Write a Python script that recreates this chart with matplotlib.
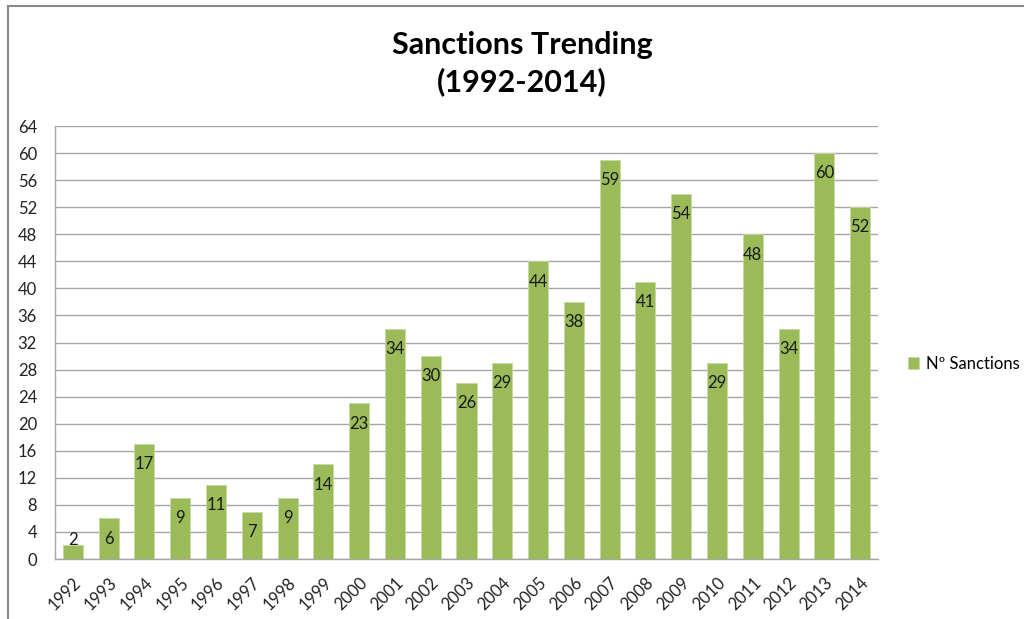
import matplotlib.pyplot as plt
from matplotlib.patches import Rectangle

years = [str(y) for y in range(1992, 2015)]
sanctions = [2, 6, 17, 9, 11, 7, 9, 14, 23, 34, 30, 26, 29, 44, 38, 59, 41, 54, 29, 48, 34, 60, 52]
y_ticks = list(range(0, 65, 4))

plt.rcParams['font.family'] = ['Lato', 'DejaVu Sans']

fig = plt.figure(figsize=(10.24, 6.19), dpi=100)
ax = fig.add_axes([55 / 1024, 1 - 559 / 619, 823 / 1024, 433 / 619])

# chart frame (only top/left edges show in the exported area)
fig.patches.append(Rectangle((8 / 1024, -0.1), 1.2, (619 - 6) / 619 + 0.1,
                             transform=fig.transFigure, fill=False,
                             edgecolor='#888888', linewidth=1.5))

x = range(len(years))
bars = ax.bar(x, sanctions, width=0.56, color='#9BBB59', edgecolor='#C6DBA0',
              linewidth=0.6, label='Nº Sanctions', zorder=3)

# value labels just inside the bar tops
for xi, v in zip(x, sanctions):
    ax.text(xi, max(v - 3.0, 2.8), str(v), ha='center', va='center',
            fontsize=12, color='#1a1a1a', zorder=4)

ax.set_xlim(-0.5, len(years) - 0.5)
ax.set_ylim(0, 64)
ax.set_yticks(y_ticks)
ax.set_xticks(list(x))
ax.set_xticklabels(years, rotation=45, ha='right', rotation_mode='anchor')
ax.tick_params(axis='both', length=0, labelsize=12, colors='#222222')
ax.tick_params(axis='y', pad=13)
ax.tick_params(axis='x', pad=11)
ax.grid(axis='y', color='#A6A6A6', linewidth=1, zorder=0)
for s in ['top', 'right']:
    ax.spines[s].set_visible(False)
for s in ['left', 'bottom']:
    ax.spines[s].set_color('#A6A6A6')
    ax.spines[s].set_linewidth(1)

fig.text(522 / 1024, 1 - 45 / 619, 'Sanctions Trending', ha='center',
         va='center', fontsize=22, fontweight='bold')
fig.text(522 / 1024, 1 - 82 / 619, '(1992-2014)', ha='center',
         va='center', fontsize=22, fontweight='bold')

ax.legend(loc='center left', bbox_to_anchor=(1.018, 0.45), frameon=False,
          fontsize=12, handlelength=0.7, handleheight=0.7, handletextpad=0.4)

fig.savefig('out.png', dpi=100)
